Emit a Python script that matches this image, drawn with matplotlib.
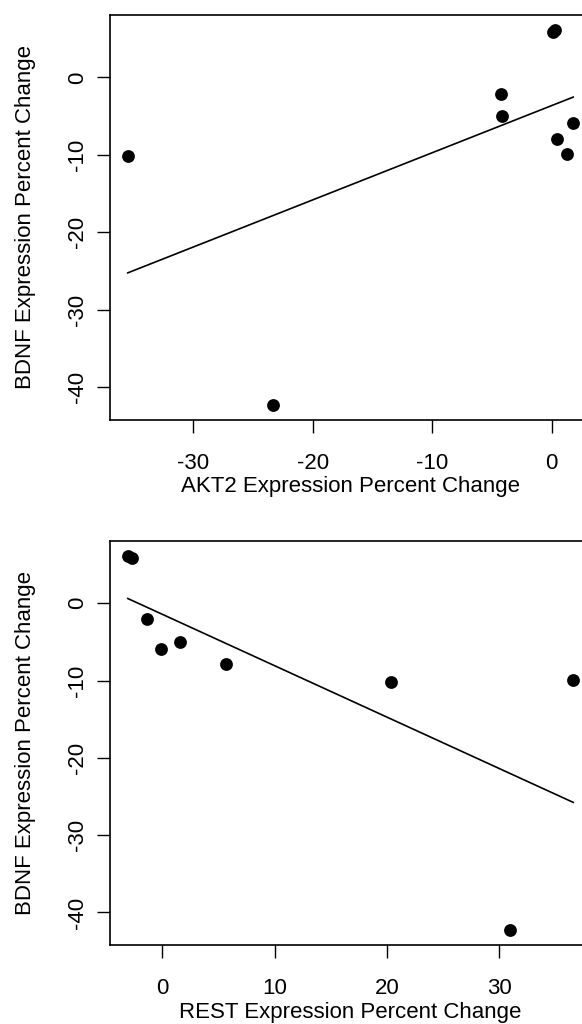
import numpy as np
import matplotlib
matplotlib.use("Agg")
import matplotlib.pyplot as plt

# BDNF change shared by both panels, one entry per sample
bdnf = [-10.15, -42.3, -2.1, -5.03, 5.85, 6.15, -7.9, -9.94, -5.9]
akt2 = [-35.5, -23.38, -4.26, -4.20, 0.09, 0.31, 0.47, 1.27, 1.80]
rest = [20.35, 30.96, -1.35, 1.55, -2.74, -3.07, 5.7, 36.6, -0.1]

akt2_ticks = [-30, -20, -10, 0]
rest_ticks = [0, 10, 20, 30]
y_ticks = [0, -10, -20, -30, -40]

x_labels = ["AKT2 Expression Percent Change", "REST Expression Percent Change"]
y_label = "BDNF Expression Percent Change"

plt.rcParams['font.family'] = ['Liberation Sans', 'DejaVu Sans']
plt.rcParams['axes.unicode_minus'] = False


def r_limits(vals):
    # R style axis range: data range plus 4% each side
    lo, hi = min(vals), max(vals)
    pad = 0.04 * (hi - lo)
    return lo - pad, hi + pad


def draw_panel(ax, x, y, xticks, xlabel):
    x = np.array(x)
    y = np.array(y)
    ax.scatter(x, y, s=85, color='black', zorder=3, linewidths=0)

    # least squares line over the data range
    slope, icept = np.polyfit(x, y, 1)
    xs = np.array([x.min(), x.max()])
    ax.plot(xs, icept + slope * xs, color='black', lw=1.2)

    ax.set_xlim(*r_limits(x))
    ax.set_ylim(*r_limits(y))
    ax.set_xticks(xticks)
    ax.set_yticks(y_ticks)
    ax.set_xticklabels([str(t) for t in xticks])
    ax.set_yticklabels([str(t) for t in y_ticks], rotation=90, va='center')

    ax.tick_params(axis='both', length=9.5, width=1.0, labelsize=16)
    ax.tick_params(axis='x', pad=14)
    ax.tick_params(axis='y', pad=6)
    for sp in ax.spines.values():
        sp.set_linewidth(1.2)

    ax.set_xlabel(xlabel, fontsize=16, labelpad=2)
    ax.set_ylabel(y_label, fontsize=16, labelpad=23)


fig = plt.figure(figsize=(5.82, 10.24), dpi=100)
ax1 = fig.add_axes([0.189, 0.5898, 0.8265, 0.3958])
ax2 = fig.add_axes([0.189, 0.0769, 0.8265, 0.3951])

draw_panel(ax1, akt2, bdnf, akt2_ticks, x_labels[0])
draw_panel(ax2, rest, bdnf, rest_ticks, x_labels[1])

fig.savefig('out.png', dpi=100)
